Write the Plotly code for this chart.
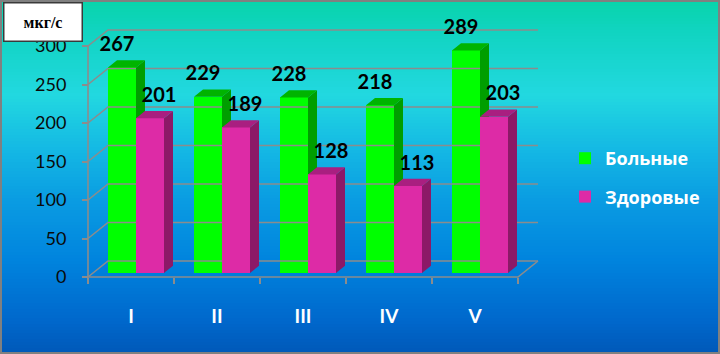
import plotly.graph_objects as go

# ---------------- data ----------------
categories = ["I", "II", "III", "IV", "V"]
sick = [267, 229, 228, 218, 289]          # Больные
healthy = [201, 189, 128, 113, 203]       # Здоровые
y_ticks = [0, 50, 100, 150, 200, 250, 300]
series_names = ["Больные", "Здоровые"]

# ---------------- geometry (pixel layout -> data units) ----------------
W, H = 720, 354
AX_X_PX, AX_Y_PX = 88, 277          # front-left corner of the chart box
CAT_PX, UNIT_PX = 86, 0.77          # px per category, px per value unit
DEPTH_PX = (20, 16)                 # 3-D depth offset (right, up)
DX = DEPTH_PX[0] / CAT_PX
DY = DEPTH_PX[1] / UNIT_PX
BAR_W = 28 / CAT_PX
BAR_Z0, BAR_ZD = 0.25, 0.45         # bar front depth, bar thickness (fractions)
LEFT = -0.5
RIGHT = len(categories) - 0.5
x_range = [LEFT - AX_X_PX / CAT_PX, LEFT + (W - AX_X_PX) / CAT_PX]
y_range = [(AX_Y_PX - H) / UNIT_PX, AX_Y_PX / UNIT_PX]

idx = list(range(len(categories)))
GREEN, GREEN_SIDE, GREEN_TOP = "#00FF00", "#009E00", "#00B400"
PINK, PINK_SIDE, PINK_TOP = "#DD2BA6", "#8C1967", "#A91F80"
GRID = "#8C8C8C"

fig = go.Figure()

# ---------------- walls / grid ----------------
gx, gy = [], []
for t in y_ticks:
    gx += [LEFT, LEFT + DX, RIGHT + DX, None]
    gy += [t, t + DY, t + DY, None]
gx += [LEFT, RIGHT, RIGHT + DX, None]
gy += [0, 0, DY, None]
gx += [LEFT, LEFT, None]
gy += [0, y_ticks[-1], None]
fig.add_trace(go.Scatter(x=gx, y=gy, mode="lines", line=dict(color=GRID, width=1.6),
                         hoverinfo="skip", showlegend=False, xaxis="x", yaxis="y"))


def faces(values, off):
    sx, sy, tx, ty = [], [], [], []
    base = BAR_Z0 * DY
    ddx, ddy = BAR_ZD * DX, BAR_ZD * DY
    for i, v in zip(idx, values):
        xl = i + off + BAR_Z0 * DX
        xr = xl + BAR_W
        top = base + v
        sx += [xr, xr, xr + ddx, xr + ddx, xr, None]
        sy += [base, top, top + ddy, base + ddy, base, None]
        tx += [xl, xr, xr + ddx, xl + ddx, xl, None]
        ty += [top, top, top + ddy, top + ddy, top, None]
    return sx, sy, tx, ty


def add_series(values, name, off, c_front, c_side, c_top, xa, ya, label_dx):
    fig.add_trace(go.Bar(x=idx, y=values, base=BAR_Z0 * DY, width=BAR_W,
                         offset=off + BAR_Z0 * DX, marker=dict(color=c_front, line=dict(width=0)),
                         name=name, legendgroup=name, xaxis=xa, yaxis=ya))
    sx, sy, tx, ty = faces(values, off)
    fig.add_trace(go.Scatter(x=sx, y=sy, fill="toself", fillcolor=c_side, mode="lines",
                             line=dict(width=0, color=c_side), hoverinfo="skip",
                             showlegend=False, xaxis=xa, yaxis=ya))
    fig.add_trace(go.Scatter(x=tx, y=ty, fill="toself", fillcolor=c_top, mode="lines",
                             line=dict(width=0, color=c_top), hoverinfo="skip",
                             showlegend=False, xaxis=xa, yaxis=ya))
    fig.add_trace(go.Scatter(
        x=[i + off + BAR_W / 2 + label_dx for i in idx],
        y=[v + 33 for v in values], mode="text", text=[str(v) for v in values],
        textposition="middle center",
        textfont=dict(family="Lato", size=20, color="#000000", weight="bold"),
        hoverinfo="skip", showlegend=False, xaxis=xa, yaxis=ya))


add_series(sick, series_names[0], -BAR_W, GREEN, GREEN_SIDE, GREEN_TOP, "x", "y", 0)
add_series(healthy, series_names[1], 0, PINK, PINK_SIDE, PINK_TOP, "x2", "y2", 14 / CAT_PX)

# ---------------- background gradient ----------------
stops = [(0, (8, 212, 170)), (30, (16, 212, 192)), (95, (34, 216, 224)),
         (150, (20, 184, 228)), (200, (10, 156, 226)), (260, (0, 132, 222)),
         (320, (0, 104, 204)), (354, (0, 88, 184))]


def col_at(p):
    for (p0, c0), (p1, c1) in zip(stops[:-1], stops[1:]):
        if p0 <= p <= p1:
            f = (p - p0) / (p1 - p0)
            return "rgb(%d,%d,%d)" % tuple(round(a + (b - a) * f) for a, b in zip(c0, c1))
    return "rgb(%d,%d,%d)" % stops[-1][1]


shapes = []
step = 3
for p in range(0, H, step):
    shapes.append(dict(type="rect", xref="paper", yref="paper", x0=0, x1=1,
                       y0=1 - min(p + step + 1, H) / H, y1=1 - p / H,
                       fillcolor=col_at(p + step / 2), line=dict(width=0), layer="below"))
shapes.append(dict(type="rect", xref="paper", yref="paper", x0=0, x1=1, y0=0, y1=1,
                   line=dict(color="#808080", width=4), fillcolor="rgba(0,0,0,0)", layer="above"))

fig.update_layout(
    width=W, height=H, margin=dict(l=0, r=0, t=0, b=0),
    paper_bgcolor="rgba(0,0,0,0)", plot_bgcolor="rgba(0,0,0,0)",
    shapes=shapes, bargap=0,
    xaxis=dict(range=x_range, domain=[0, 1], anchor="free", position=1 - AX_Y_PX / H,
               tickmode="array", tickvals=idx, ticktext=categories, ticks="",
               ticklabelstandoff=26, showgrid=False, zeroline=False, showline=False,
               tickfont=dict(family="Lato", size=19, color="#FFFFFF", weight="bold"),
               minor=dict(tickmode="array", tickvals=[i - 0.5 for i in idx] + [RIGHT],
                          ticks="outside", ticklen=6, tickcolor=GRID, tickwidth=1.6, showgrid=False),
               fixedrange=True, automargin=False),
    yaxis=dict(range=y_range, domain=[0, 1], anchor="free", position=AX_X_PX / W,
               tickmode="array", tickvals=y_ticks, ticks="outside", ticklen=6,
               tickcolor=GRID, tickwidth=1.6, ticklabelstandoff=12,
               showgrid=False, zeroline=False, showline=False,
               tickfont=dict(family="Lato", size=18, color="#0A0A0A"),
               fixedrange=True, automargin=False),
    xaxis2=dict(range=x_range, overlaying="x", visible=False, fixedrange=True),
    yaxis2=dict(range=y_range, overlaying="y", visible=False, fixedrange=True),
    legend=dict(x=565 / W, y=1 - 140 / H, xanchor="left", yanchor="top",
                bgcolor="rgba(0,0,0,0)", traceorder="grouped", tracegroupgap=12,
                font=dict(family="Open Sans", size=18, color="#FFFFFF", weight="bold")),
    annotations=[dict(text="<b>мкг/с</b>", xref="paper", yref="paper", x=3 / W, y=1 - 2 / H,
                      xanchor="left", yanchor="top", showarrow=False, width=75, height=35,
                      bgcolor="#FFFFFF", bordercolor="#3A3A3A", borderwidth=1.5, borderpad=1,
                      font=dict(family="Liberation Serif", size=16, color="#000000"))],
)

fig.write_html("out.html")
